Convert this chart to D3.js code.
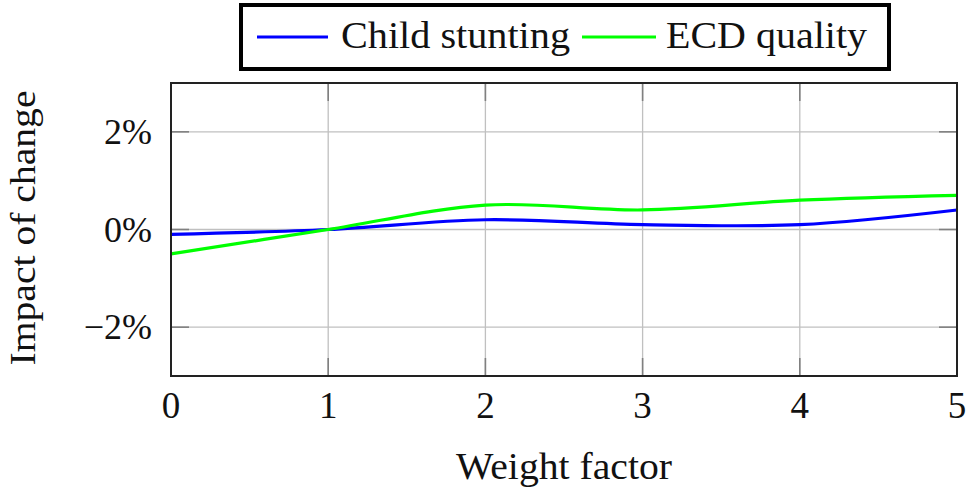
<!DOCTYPE html>
<html>
<head>
<meta charset="utf-8">
<script src="https://cdn.jsdelivr.net/npm/d3@7"></script>
</head>
<body style="margin:0;background:#fff">
<svg id="chart" width="968" height="492" style="display:block"></svg>
<script>
const weightFactors = [0, 1, 2, 3, 4, 5];
const childStunting = [-0.1, 0, 0.2, 0.1, 0.1, 0.4];
const ecdQuality = [-0.5, 0, 0.5, 0.4, 0.6, 0.7];
const seriesNames = ["Child stunting", "ECD quality"];
const seriesColors = ["#0000ff", "#00ff00"];
const xTicks = [0, 1, 2, 3, 4, 5];
const yTicks = [-2, 0, 2];
const xLabel = "Weight factor";
const yLabel = "Impact of change";

const FONT = '"Liberation Serif"';
const svg = d3.select("#chart");
const L = 171, R = 957, T = 83, B = 376;

const x = d3.scaleLinear().domain([0, 5]).range([L, R]);
const y = d3.scaleLinear().domain([-3, 3]).range([B, T]);

function serif(sel) {
  return sel.style("font-family", FONT, "important").attr("fill", "#111");
}

// grid
const g = svg.append("g");
g.selectAll("line.gx").data(xTicks).join("line")
  .attr("x1", d => x(d)).attr("x2", d => x(d)).attr("y1", T).attr("y2", B)
  .attr("stroke", "#c0c0c0").attr("stroke-width", 1.3);
g.selectAll("line.gy").data(yTicks).join("line")
  .attr("y1", d => y(d)).attr("y2", d => y(d)).attr("x1", L).attr("x2", R)
  .attr("stroke", "#c0c0c0").attr("stroke-width", 1.3);

// ticks (inward, both sides)
const tl = 18, tc = "#808080";
xTicks.forEach(t => {
  g.append("line").attr("x1", x(t)).attr("x2", x(t)).attr("y1", B).attr("y2", B - tl).attr("stroke", tc).attr("stroke-width", 1.6);
  g.append("line").attr("x1", x(t)).attr("x2", x(t)).attr("y1", T).attr("y2", T + tl).attr("stroke", tc).attr("stroke-width", 1.6);
});
yTicks.forEach(t => {
  g.append("line").attr("y1", y(t)).attr("y2", y(t)).attr("x1", L).attr("x2", L + tl).attr("stroke", tc).attr("stroke-width", 1.6);
  g.append("line").attr("y1", y(t)).attr("y2", y(t)).attr("x1", R).attr("x2", R - tl).attr("stroke", tc).attr("stroke-width", 1.6);
});

// lines
const line = d3.line()
  .x((d, i) => x(weightFactors[i]))
  .y(d => y(d))
  .curve(d3.curveCardinal.tension(0));
[childStunting, ecdQuality].forEach((s, i) => {
  svg.append("path").datum(s)
    .attr("fill", "none").attr("stroke", seriesColors[i])
    .attr("stroke-width", 3.2).attr("d", line);
});

// frame
svg.append("rect").attr("x", L).attr("y", T).attr("width", R - L).attr("height", B - T)
  .attr("fill", "none").attr("stroke", "#222").attr("stroke-width", 2);

// tick labels
svg.append("g").selectAll("text").data(xTicks).join("text")
  .attr("x", d => x(d)).attr("y", 418)
  .attr("text-anchor", "middle").attr("font-size", 37)
  .call(serif)
  .text(d => d);
svg.append("g").selectAll("text").data(yTicks).join("text")
  .attr("x", 152).attr("y", d => y(d) + 12)
  .attr("text-anchor", "end").attr("font-size", 36)
  .call(serif)
  .text(d => (d < 0 ? "\u2212" : "") + Math.abs(d) + "%");

// axis titles
svg.append("text").attr("x", 564).attr("y", 479).attr("text-anchor", "middle")
  .attr("font-size", 38).call(serif)
  .attr("textLength", 216).attr("lengthAdjust", "spacingAndGlyphs")
  .text(xLabel);
svg.append("text").attr("transform", "translate(35,228) rotate(-90)")
  .attr("text-anchor", "middle").attr("font-size", 36)
  .call(serif)
  .attr("textLength", 275).attr("lengthAdjust", "spacingAndGlyphs")
  .text(yLabel);

// legend
const lg = svg.append("g");
lg.append("rect").attr("x", 241).attr("y", 5).attr("width", 648).attr("height", 64)
  .attr("fill", "#fff").attr("stroke", "#000").attr("stroke-width", 4);
const legendItems = [
  { lx1: 257, lx2: 328, tx: 341, tw: 229 },
  { lx1: 582, lx2: 656, tx: 666, tw: 201 }
];
seriesNames.forEach((name, i) => {
  const it = legendItems[i];
  lg.append("line").attr("x1", it.lx1).attr("x2", it.lx2).attr("y1", 37).attr("y2", 37)
    .attr("stroke", seriesColors[i]).attr("stroke-width", 3.2);
  lg.append("text").attr("x", it.tx).attr("y", 48).attr("font-size", 38)
    .call(serif)
    .attr("textLength", it.tw).attr("lengthAdjust", "spacingAndGlyphs")
    .text(name);
});
</script>
</body>
</html>
